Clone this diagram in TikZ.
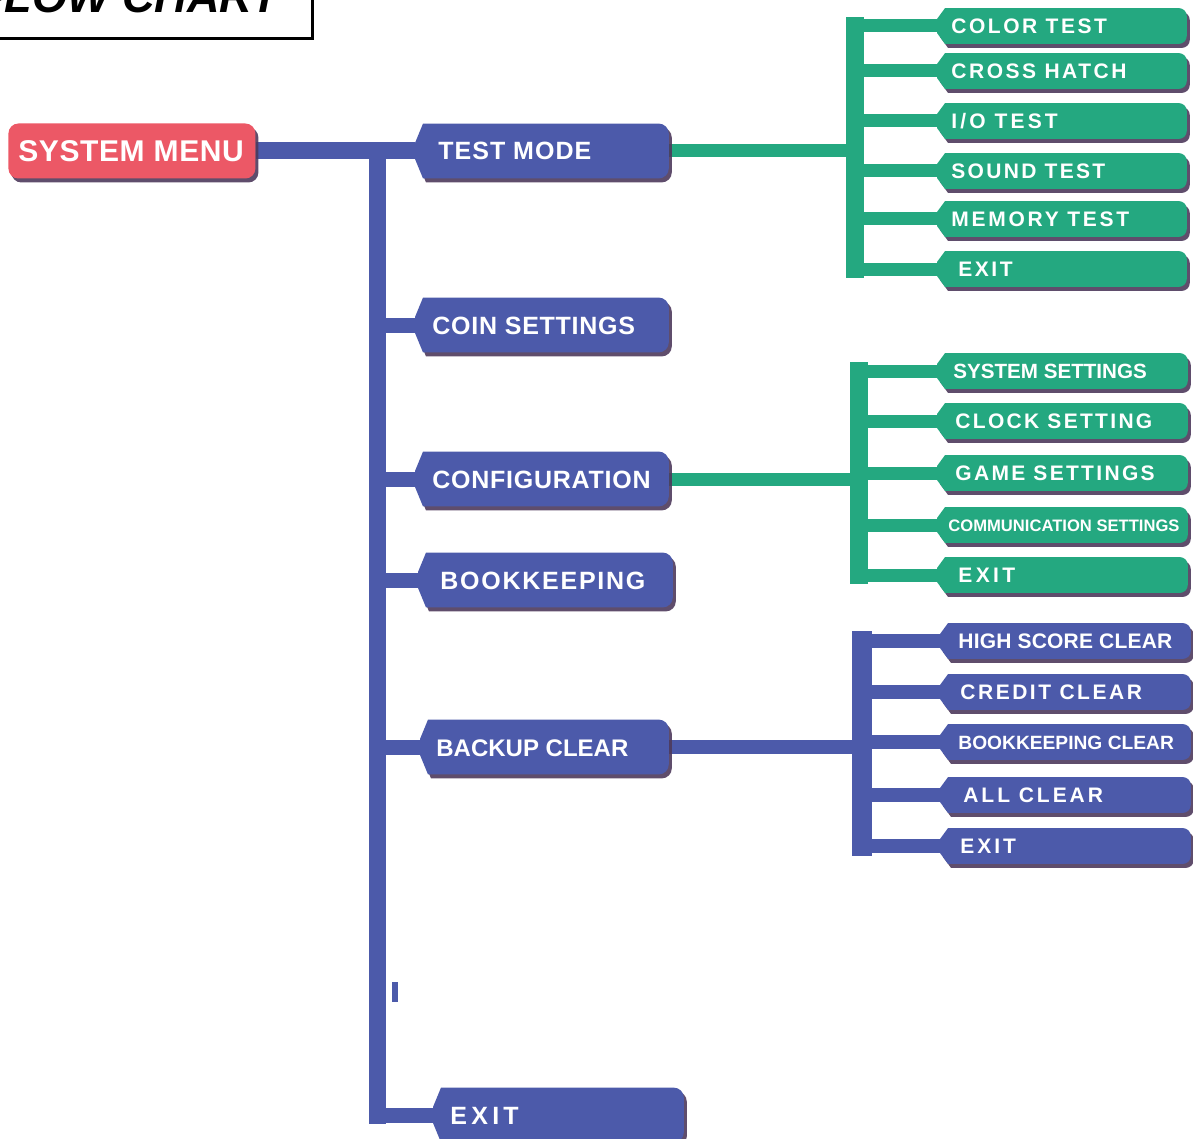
\documentclass[tikz,border=0pt]{standalone}
\usepackage{fontspec}
\setmainfont{Liberation Sans}
\usetikzlibrary{calc,shadows}
\definecolor{bluef}{RGB}{76,90,170}
\definecolor{greenf}{RGB}{36,168,128}
\definecolor{redf}{RGB}{236,88,102}
\definecolor{shadowc}{RGB}{78,58,92}
\pgfdeclarelayer{lines}
\pgfdeclarelayer{pills}
\pgfsetlayers{lines,pills,main}
\newcommand\lbl[2]{\fontsize{#1}{#1}\selectfont\addfontfeatures{LetterSpace=#2}}
\newcommand\tb[4]{\makebox[#1][l]{\lbl{#2}{#3}#4}}
\newcommand\pill[4]{%
  \fill[#2, shad]
    ($(#1.west)+(0,#3)$) -- ($(#1.north west)+(4pt,0)$) -- ($(#1.north east)+(-#4,0)$)
    arc[start angle=90,end angle=0,radius=#4] -- ($(#1.south east)+(0,#4)$)
    arc[start angle=0,end angle=-90,radius=#4] -- ($(#1.south west)+(4pt,0)$)
    -- ($(#1.west)+(0,-#3)$) -- cycle;}
\tikzset{
  shad/.style={drop shadow={shadow xshift=1.5pt,shadow yshift=-2pt,fill=shadowc,opacity=0.9}},
  mainnode/.style={anchor=west, text=white, font=\bfseries, inner ysep=0pt,
    minimum height=27pt, text height=9pt, text depth=0pt},
  subnode/.style={anchor=west, text=white, font=\bfseries, inner ysep=0pt,
    minimum height=17.5pt, text height=7.5pt, text depth=0pt},
  bvert/.style={draw=bluef, line width=8.5pt, line cap=rect},
  bstub/.style={draw=bluef, line width=7.5pt},
  bsys/.style={draw=bluef, line width=8.5pt},
  gvert/.style={draw=greenf, line width=9pt, line cap=rect},
  ghor/.style={draw=greenf, line width=6.5pt},
  svert/.style={draw=bluef, line width=10pt, line cap=rect},
  shor/.style={draw=bluef, line width=7pt},
}
\begin{document}
\begin{tikzpicture}[x=0.5pt,y=-0.5pt]
\useasboundingbox (0,0) rectangle (1193,1139);
\clip (0,0) rectangle (1193,1139);

% title
\node[draw=black, line width=1.3pt, anchor=south east, minimum width=170pt,
      minimum height=50pt, inner sep=0pt] (titlebox) at (314,40) {};
\node[anchor=base west, inner sep=0pt, font=\bfseries\itshape\fontsize{22.5}{24}\selectfont]
  (title) at (-23,13) {FLOW CHART};

% system menu
\node[anchor=west, fill=redf, rounded corners=5pt, shad, minimum height=27.5pt,
      inner xsep=5pt, inner ysep=0pt, text height=11pt, text depth=0pt,
      text=white, font=\bfseries] (sys) at (8,151) {\tb{113.5pt}{15}{2}{SYSTEM MENU}};

% main nodes
\node[mainnode, inner xsep=11.5pt] (test) at (415,151) {\tb{103.5pt}{12.5}{4}{TEST MODE}};
\node[mainnode, inner xsep=8.5pt] (coin) at (415,325) {\tb{109.5pt}{12.5}{3}{COIN SETTINGS}};
\node[mainnode, inner xsep=8.5pt] (conf) at (415,479) {\tb{109.5pt}{12.5}{3}{CONFIGURATION}};
\node[mainnode, inner xsep=11pt] (book) at (418,580) {\tb{105pt}{12.5}{7}{BOOKKEEPING}};
\node[mainnode, inner xsep=8pt] (bk) at (420,747) {\tb{108pt}{12}{0}{BACKUP CLEAR}};
\node[mainnode, inner xsep=8.5pt] (exit) at (433,1115) {\tb{108pt}{12.5}{17}{EXIT}};

% test mode sub nodes
\node[subnode, inner xsep=7pt] (ct) at (937,26) {\tb{110.5pt}{10.5}{12}{COLOR TEST}};
\node[subnode, inner xsep=7pt] (ch) at (937,71) {\tb{110.5pt}{10.5}{12}{CROSS HATCH}};
\node[subnode, inner xsep=7pt] (io) at (937,121) {\tb{110.5pt}{10.5}{15}{I/O TEST}};
\node[subnode, inner xsep=7pt] (st) at (937,171) {\tb{110.5pt}{10.5}{11}{SOUND TEST}};
\node[subnode, inner xsep=7pt] (mt) at (937,219) {\tb{110.5pt}{10.5}{13}{MEMORY TEST}};
\node[subnode, inner xsep=10.5pt] (te) at (937,269) {\tb{103.5pt}{10.5}{12}{EXIT}};

% configuration sub nodes
\node[subnode, inner xsep=8pt] (ss) at (937,371) {\tb{109pt}{10.3}{0}{SYSTEM SETTINGS}};
\node[subnode, inner xsep=9pt] (cl) at (937,421) {\tb{107pt}{10.5}{11}{CLOCK SETTING}};
\node[subnode, inner xsep=9pt] (gs) at (937,473) {\tb{107pt}{10.5}{11}{GAME SETTINGS}};
\node[subnode, inner xsep=5.5pt, text height=6pt] (cs) at (937,525) {\tb{114pt}{8.3}{0}{COMMUNICATION SETTINGS}};
\node[subnode, inner xsep=10.5pt] (ce) at (937,575) {\tb{104pt}{10.5}{16}{EXIT}};

% backup clear sub nodes
\node[subnode, inner xsep=9pt] (hs) at (940,641) {\tb{107pt}{10.5}{1}{HIGH SCORE CLEAR}};
\node[subnode, inner xsep=10pt] (cc) at (940,692) {\tb{105pt}{10.5}{12}{CREDIT CLEAR}};
\node[subnode, inner xsep=9pt] (bc) at (940,742) {\tb{107pt}{9.6}{0}{BOOKKEEPING CLEAR}};
\node[subnode, inner xsep=11.5pt] (ac) at (940,795) {\tb{102pt}{10.5}{14}{ALL CLEAR}};
\node[subnode, inner xsep=10pt] (be) at (940,846) {\tb{105pt}{10.5}{14}{EXIT}};

% pill shapes
\begin{pgfonlayer}{pills}
\foreach \n in {test,coin,conf,book,bk,exit} {\pill{\n}{bluef}{4pt}{5pt}}
\foreach \n in {ct,ch,io,st,mt,te,ss,cl,gs,cs,ce} {\pill{\n}{greenf}{3.5pt}{4pt}}
\foreach \n in {hs,cc,bc,ac,be} {\pill{\n}{bluef}{3.5pt}{4pt}}
\end{pgfonlayer}

% connectors
\begin{pgfonlayer}{lines}
\coordinate (tk) at (377,151);
\draw[bsys] (sys.east) -- (test.west);
\draw[bvert] (tk) -- (tk |- exit.west);
\foreach \n in {coin,conf,book,bk,exit} {\draw[bstub] (tk |- \n.west) -- (\n.west);}
\fill[bluef] (392,982) rectangle (398,1002);

\coordinate (tv1) at (855,26);
\coordinate (tv2) at (855,269);
\draw[gvert] (tv1) -- (tv2);
\foreach \n in {ct,ch,io,st,mt,te} {\draw[ghor] (tv1 |- \n.west) -- (\n.west);}
\draw[ghor] (test.east) -- (tv1 |- test.east);

\coordinate (cv1) at (859,371);
\coordinate (cv2) at (859,575);
\draw[gvert] (cv1) -- (cv2);
\foreach \n in {ss,cl,gs,cs,ce} {\draw[ghor] (cv1 |- \n.west) -- (\n.west);}
\draw[ghor] (conf.east) -- (cv1 |- conf.east);

\coordinate (bv1) at (862,641);
\coordinate (bv2) at (862,846);
\draw[svert] (bv1) -- (bv2);
\foreach \n in {hs,cc,bc,ac,be} {\draw[shor] (bv1 |- \n.west) -- (\n.west);}
\draw[shor] (bk.east) -- (bv1 |- bk.east);
\end{pgfonlayer}
\end{tikzpicture}
\end{document}
